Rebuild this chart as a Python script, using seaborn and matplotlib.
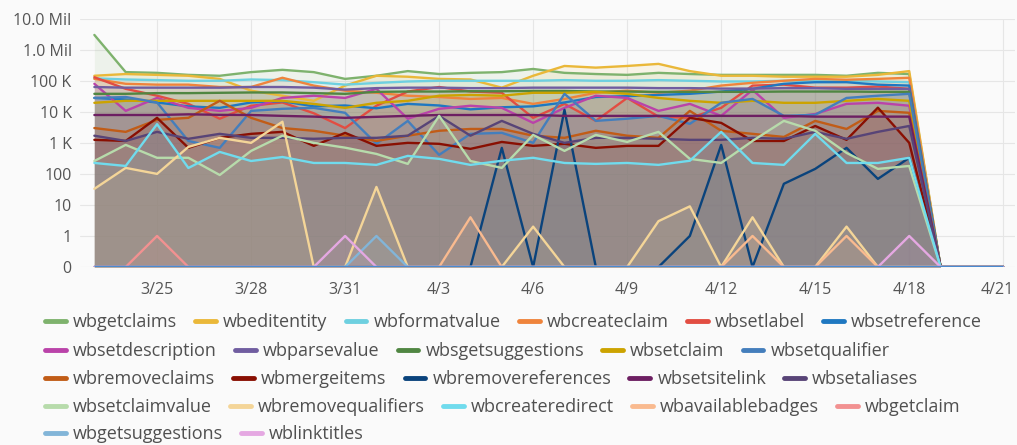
import pandas as pd
import numpy as np
import matplotlib
matplotlib.use('Agg')
import matplotlib.pyplot as plt
import matplotlib.transforms as mtransforms
import seaborn as sns
from matplotlib.lines import Line2D

# daily API call counts, 3/23 .. 4/21
dates = pd.date_range('2018-03-23', '2018-04-21', freq='D')

wbgetclaims = [3000000, 190000, 180000, 155000, 145000, 190000, 225000, 190000, 115000, 145000, 205000, 165000, 180000, 190000, 240000,
               180000, 165000, 155000, 180000, 165000, 155000, 155000, 155000, 155000, 145000, 180000, 165000, 0, 0, 0]
wbeditentity = [145000, 165000, 155000, 145000, 115000, 48000, 33000, 22600, 70000, 145000, 135000, 115000, 110000, 60000, 145000,
                300000, 265000, 300000, 350000, 205000, 145000, 145000, 135000, 135000, 135000, 155000, 205000, 0, 0, 0]
wbformatvalue = [120000, 110000, 105000, 100000, 100000, 110000, 105000, 90000, 75000, 85000, 95000, 100000, 100000, 100000, 100000,
                 105000, 100000, 100000, 105000, 100000, 95000, 95000, 100000, 100000, 100000, 95000, 90000, 0, 0, 0]
wbcreateclaim = [115000, 80000, 75000, 75000, 63000, 63000, 125000, 70000, 48000, 41000, 33000, 30000, 26000, 28000, 18000,
                 26000, 41000, 48000, 41000, 48000, 70000, 86000, 100000, 115000, 108000, 115000, 125000, 0, 0, 0]
wbsetlabel = [130000, 55000, 33000, 18000, 6000, 15700, 20000, 9000, 3000, 15700, 45000, 63000, 45000, 41000, 6400,
              18000, 5100, 28000, 7000, 6400, 13400, 70000, 75000, 60000, 60000, 65000, 55000, 0, 0, 0]
wbsetreference = [28000, 25000, 20000, 15000, 13400, 20000, 22000, 15000, 16000, 13000, 18000, 16000, 12000, 14000, 15000,
                  20000, 30000, 32000, 35000, 38000, 45000, 55000, 80000, 90000, 90000, 75000, 70000, 0, 0, 0]
wbsetdescription = [80000, 10700, 28000, 13400, 10700, 13400, 28000, 33000, 28000, 55000, 6000, 12500, 15700, 13400, 4400,
                    13400, 33000, 28000, 10700, 18000, 7400, 51000, 6400, 8500, 18000, 19500, 15700, 0, 0, 0]
wbparsevalue = [63000, 60000, 60000, 60000, 60000, 63000, 63000, 60000, 52000, 58000, 60000, 60000, 58000, 58000, 60000,
                60000, 60000, 60000, 58000, 58000, 56000, 56000, 58000, 58000, 55000, 55000, 55000, 0, 0, 0]
wbsgetsuggestions = [38000, 38000, 40000, 40000, 41000, 42000, 42000, 40000, 38000, 44000, 45000, 45000, 46000, 46000, 47000,
                     47000, 45000, 45000, 44000, 44000, 44000, 44000, 45000, 45000, 45000, 44000, 44000, 0, 0, 0]
wbsetclaim = [19500, 22600, 22600, 22600, 22600, 22600, 22600, 18000, 13400, 19500, 22600, 33000, 35000, 33000, 41000,
              41000, 44000, 38000, 28000, 22600, 19500, 22600, 19500, 19500, 22600, 26000, 22600, 0, 0, 0]
wbsetqualifier = [28000, 30000, 20000, 1150, 690, 10700, 12500, 13400, 9300, 930, 5100, 410, 1950, 2100, 1000,
                  38000, 5100, 6000, 7400, 4100, 19500, 26000, 7400, 8000, 28000, 33000, 38000, 0, 0, 0]
wbremoveclaims = [3000, 2260, 5500, 6400, 22600, 6400, 3000, 2450, 1700, 1150, 1700, 2450, 2800, 2800, 1700,
                  1450, 2450, 1700, 1450, 10700, 2450, 1950, 1550, 5100, 2800, 10700, 9300, 0, 0, 0]
wbmergeitems = [1250, 1150, 6400, 690, 1450, 1950, 2260, 800, 2100, 800, 1000, 930, 640, 1070, 800,
                930, 690, 800, 800, 6400, 4400, 1150, 1150, 3500, 1250, 13600, 1000, 0, 0, 0]
wbremovereferences = [0, 0, 0, 0, 0, 0, 0, 0, 0, 0, 0, 0, 0, 690, 0,
                      11600, 0, 0, 0, 1, 860, 0, 48, 145, 690, 69, 330, 0, 0, 0]
wbsetsitelink = [7900, 7900, 7900, 8300, 8000, 7900, 7400, 7000, 6400, 6900, 7400, 7900, 7900, 7900, 7900,
                 7400, 7400, 7400, 7400, 7400, 7400, 7400, 7400, 7000, 7000, 7000, 7000, 0, 0, 0]
wbsetaliases = [1700, 1150, 2260, 1350, 1950, 1450, 1450, 1350, 1450, 1450, 1700, 7400, 1700, 5100, 1950,
                1000, 1450, 1450, 1350, 1250, 1250, 1450, 1350, 2260, 1350, 2260, 3500, 0, 0, 0]
wbsetclaimvalue = [260, 860, 330, 330, 92, 550, 1700, 1000, 700, 440, 210, 7400, 260, 156, 1800,
                   550, 1800, 1070, 2260, 305, 225, 1150, 5100, 2450, 475, 145, 180, 0, 0, 0]
wbremovequalifiers = [33, 156, 100, 740, 1450, 1000, 4800, 0, 0, 38, 0, 0, 0, 0, 2,
                      0, 0, 0, 3, 9, 0, 4, 0, 0, 2, 0, 0, 0, 0, 0]
wbcreateredirect = [225, 180, 4000, 155, 510, 260, 350, 225, 225, 195, 380, 305, 195, 265, 330,
                    225, 210, 225, 195, 265, 2260, 225, 195, 1950, 225, 225, 330, 0, 0, 0]
wbavailablebadges = [0, 0, 0, 0, 0, 0, 0, 0, 0, 0, 0, 0, 4, 0, 0,
                     0, 0, 0, 0, 0, 0, 1, 0, 0, 1, 0, 0, 0, 0, 0]
wbgetclaim = [0, 0, 1, 0, 0, 0, 0, 0, 0, 0, 0, 0, 0, 0, 0,
              0, 0, 0, 0, 0, 0, 0, 0, 0, 0, 0, 0, 0, 0, 0]
wbgetsuggestions = [0, 0, 0, 0, 0, 0, 0, 0, 0, 1, 0, 0, 0, 0, 0,
                    0, 0, 0, 0, 0, 0, 0, 0, 0, 0, 0, 0, 0, 0, 0]
wblinktitles = [0, 0, 0, 0, 0, 0, 0, 0, 1, 0, 0, 0, 0, 0, 0,
                0, 0, 0, 0, 0, 0, 0, 0, 0, 0, 0, 1, 0, 0, 0]

series = {
    'wbgetclaims': wbgetclaims, 'wbeditentity': wbeditentity, 'wbformatvalue': wbformatvalue,
    'wbcreateclaim': wbcreateclaim, 'wbsetlabel': wbsetlabel, 'wbsetreference': wbsetreference,
    'wbsetdescription': wbsetdescription, 'wbparsevalue': wbparsevalue, 'wbsgetsuggestions': wbsgetsuggestions,
    'wbsetclaim': wbsetclaim, 'wbsetqualifier': wbsetqualifier, 'wbremoveclaims': wbremoveclaims,
    'wbmergeitems': wbmergeitems, 'wbremovereferences': wbremovereferences, 'wbsetsitelink': wbsetsitelink,
    'wbsetaliases': wbsetaliases, 'wbsetclaimvalue': wbsetclaimvalue, 'wbremovequalifiers': wbremovequalifiers,
    'wbcreateredirect': wbcreateredirect, 'wbavailablebadges': wbavailablebadges, 'wbgetclaim': wbgetclaim,
    'wbgetsuggestions': wbgetsuggestions, 'wblinktitles': wblinktitles,
}

colors = ['#7EB26D', '#EAB839', '#6ED0E0', '#EF843C', '#E24D42', '#1F78C1', '#BA43A9', '#705DA0',
          '#508642', '#CCA300', '#447EBC', '#C15C17', '#890F02', '#0A437C', '#6D1F62', '#584477',
          '#B7DBAB', '#F4D598', '#70DBED', '#F9BA8F', '#F29191', '#82B5D8', '#E5A8E2']

legend_rows = [
    ['wbgetclaims', 'wbeditentity', 'wbformatvalue', 'wbcreateclaim', 'wbsetlabel', 'wbsetreference'],
    ['wbsetdescription', 'wbparsevalue', 'wbsgetsuggestions', 'wbsetclaim', 'wbsetqualifier'],
    ['wbremoveclaims', 'wbmergeitems', 'wbremovereferences', 'wbsetsitelink', 'wbsetaliases'],
    ['wbsetclaimvalue', 'wbremovequalifiers', 'wbcreateredirect', 'wbavailablebadges', 'wbgetclaim'],
    ['wbgetsuggestions', 'wblinktitles'],
]

y_ticks = [0, 1, 10, 100, 1000, 10000, 100000, 1000000, 10000000]
y_labels = ['0', '1', '10', '100', '1 K', '10 K', '100 K', '1.0 Mil', '10.0 Mil']
x_ticks = pd.date_range('2018-03-25', '2018-04-21', freq='3D')
x_labels = ['3/25', '3/28', '3/31', '4/3', '4/6', '4/9', '4/12', '4/15', '4/18', '4/21']

names = list(series.keys())
palette = dict(zip(names, colors))

df = pd.DataFrame({'date': dates, **series})
long = df.melt(id_vars='date', var_name='api', value_name='calls')

sns.set_style('white')
plt.rcParams['font.family'] = ['Open Sans', 'DejaVu Sans']

bg = '#fafafa'
fig = plt.figure(figsize=(10.17, 4.45), dpi=100, facecolor=bg)
ax = fig.add_axes([80 / 1017, 1 - 267 / 445, 935 / 1017, (267 - 18.7) / 445])
ax.set_facecolor(bg)

sns.lineplot(data=long, x='date', y='calls', hue='api', hue_order=names, palette=palette,
             estimator=None, linewidth=1.7, legend=False, ax=ax, zorder=2)
for name in names:
    ax.fill_between(df['date'], 0, df[name], color=palette[name], alpha=0.1, linewidth=0, zorder=1)

# baseline where the zero-valued series overlap
ax.hlines(0, dates[0], dates[-1], color='#4a8ad0', linewidth=2.4, zorder=3)

ax.set_yscale('symlog', linthresh=1, linscale=0.9)
ax.set_ylim(0, 10000000)
ax.set_yticks(y_ticks)
ax.set_yticklabels(y_labels)
ax.set_xticks(x_ticks)
ax.set_xticklabels(x_labels)
ax.set_xlim(dates[0] - pd.Timedelta(hours=11), dates[-1] + pd.Timedelta(hours=9))
ax.yaxis.set_minor_locator(matplotlib.ticker.NullLocator())

ax.grid(True, color='#e6e6e6', linewidth=0.8, zorder=0)
ax.set_axisbelow(True)
for s in ax.spines.values():
    s.set_visible(False)
ax.tick_params(axis='both', length=0, labelsize=11.5, labelcolor='#555555')
ax.tick_params(axis='y', pad=6)
ax.tick_params(axis='x', pad=11)
ax.set_xlabel('')
ax.set_ylabel('')

# keep the last date label inside the figure edge
last = ax.get_xticklabels()[-1]
last.set_transform(last.get_transform() + mtransforms.ScaledTranslation(-6 / 100, 0, fig.dpi_scale_trans))

row_y = [322, 351, 379, 407, 434]
for row, yy in zip(legend_rows, row_y):
    handles = [Line2D([0], [0], color=palette[n], linewidth=3.5, solid_capstyle='round') for n in row]
    leg = fig.legend(handles, row, loc='center left', bbox_to_anchor=(45 / 1017, 1 - yy / 445),
                     ncol=len(row), frameon=False, fontsize=13, handlelength=1.15,
                     handletextpad=0.4, columnspacing=1.0, borderpad=0, borderaxespad=0)
    for t in leg.get_texts():
        t.set_color('#505050')

fig.savefig('out.png', dpi=100, facecolor=bg)
